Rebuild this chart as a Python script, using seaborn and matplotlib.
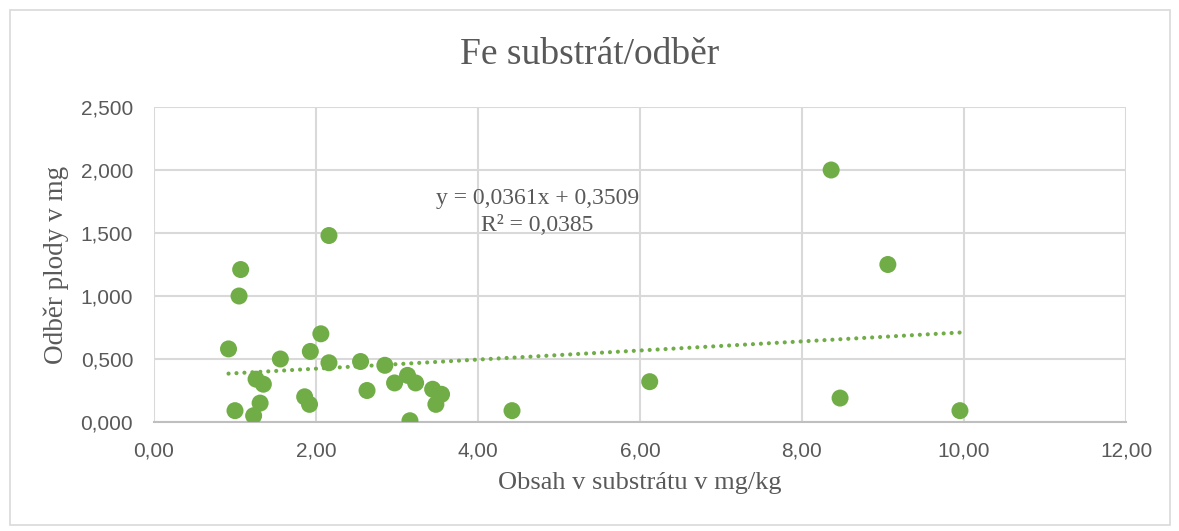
import numpy as np
import pandas as pd
import matplotlib
matplotlib.use("Agg")
import matplotlib.pyplot as plt
import seaborn as sns
from matplotlib.ticker import FuncFormatter
from matplotlib.patches import Rectangle

# values
obsah = [1.07, 1.05, 0.92, 1.00, 1.23, 1.31, 1.26, 1.35, 1.56, 1.86,
         1.92, 1.93, 2.06, 2.16, 2.16, 2.55, 2.63, 2.85, 2.97, 3.13,
         3.23, 3.16, 3.44, 3.55, 3.48, 4.42, 6.12, 8.36, 8.47, 9.06, 9.95]
odber = [1.21, 1.00, 0.58, 0.09, 0.05, 0.15, 0.34, 0.30, 0.50, 0.20,
         0.14, 0.56, 0.70, 0.47, 1.48, 0.48, 0.25, 0.45, 0.31, 0.37,
         0.31, 0.01, 0.26, 0.22, 0.14, 0.09, 0.32, 2.00, 0.19, 1.25, 0.09]
slope = 0.0361
intercept = 0.3509
r2 = 0.0385

df = pd.DataFrame({"obsah": obsah, "odber": odber})

sns.set_style("white")
grey = "#595959"
green = "#70AD47"

fig = plt.figure(figsize=(11.79, 5.31), dpi=100)
ax = fig.add_axes([154 / 1179, 1 - 422 / 531, (1126 - 154) / 1179, (422 - 107) / 531])

# chart area border
fig.patches.append(Rectangle((10 / 1179, 6 / 531), 1160 / 1179, 515 / 531,
                             transform=fig.transFigure, fill=False,
                             edgecolor="#d9d9d9", linewidth=1.2))

sns.scatterplot(data=df, x="obsah", y="odber", ax=ax, color=green,
                s=150, edgecolor="none", zorder=3)

# linear trendline over the data range
xs = np.linspace(min(obsah), max(obsah), 50)
ax.plot(xs, slope * xs + intercept, color=green, linestyle=(0, (0.01, 1.9)),
        linewidth=3, dash_capstyle="round", zorder=2)

ax.set_xlim(0, 12)
ax.set_ylim(0, 2.5)
ax.set_xticks(np.arange(0, 13, 2))
ax.set_yticks(np.arange(0, 2.51, 0.5))
ax.xaxis.set_major_formatter(FuncFormatter(lambda v, p: f"{v:.2f}".replace(".", ",")))
ax.yaxis.set_major_formatter(FuncFormatter(lambda v, p: f"{v:.3f}".replace(".", ",")))
ax.grid(True, color="#d9d9d9", linewidth=1.5)
ax.set_axisbelow(True)
for s in ["top", "right", "left"]:
    ax.spines[s].set_visible(False)
ax.spines["bottom"].set_color("#bfbfbf")
ax.spines["bottom"].set_linewidth(1.5)
ax.tick_params(axis="y", length=0, labelsize=15, colors=grey, pad=15)
ax.tick_params(axis="x", length=0, labelsize=15, colors=grey, pad=14)
for lab in ax.get_xticklabels() + ax.get_yticklabels():
    lab.set_family(["Liberation Sans Narrow", "Liberation Sans", "DejaVu Sans"])

serif = ["Liberation Serif", "DejaVu Serif"]
ax.set_xlabel("Obsah v substrátu v mg/kg", fontsize=19, color=grey,
              family=serif, labelpad=8)
ax.set_ylabel("Odběr plody v mg", fontsize=19.5, color=grey,
              family=serif, labelpad=8)
fig.text(0.5, 1 - 55 / 531, "Fe substrát/odběr", ha="center", va="center",
         fontsize=27, color=grey, family=serif)

eq = f"y = {slope:.4f}x + {intercept:.4f}".replace(".", ",")
rr = f"R² = {r2:.4f}".replace(".", ",")
ax.text(4.73, 1.77, eq, ha="center", va="center", fontsize=17,
        color=grey, family=serif)
ax.text(4.73, 1.56, rr, ha="center", va="center", fontsize=17,
        color=grey, family=serif)

fig.savefig("out.png", dpi=100)
